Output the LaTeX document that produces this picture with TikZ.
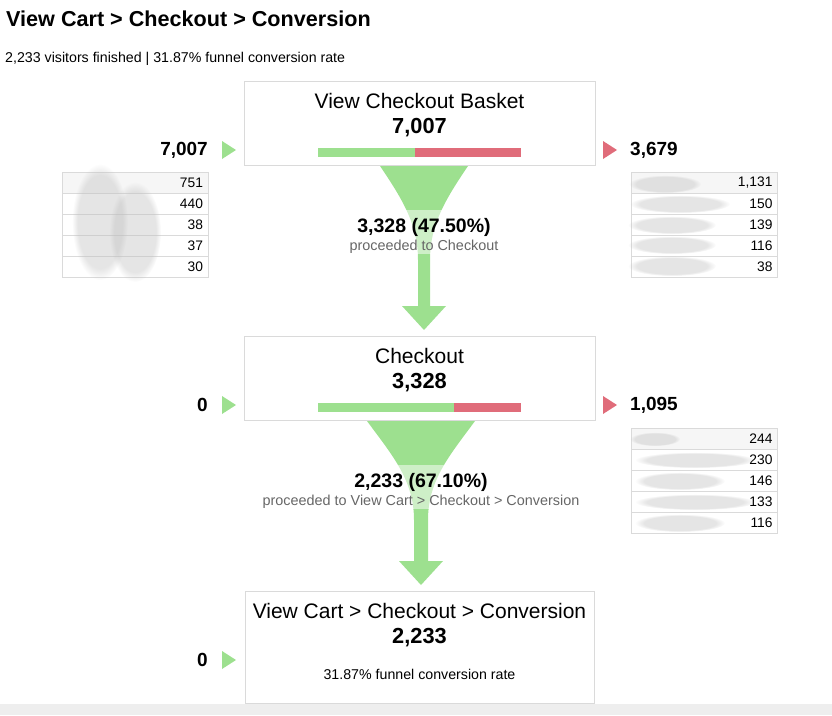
\documentclass[tikz,border=0pt]{standalone}
\usepackage{fontspec}
\setmainfont{Liberation Sans}
\usetikzlibrary{fadings}
\definecolor{stepgreen}{RGB}{157,224,143}
\definecolor{stepred}{RGB}{224,108,122}
\definecolor{boxgray}{RGB}{218,218,218}
\definecolor{rowgray}{RGB}{246,246,246}
\definecolor{labelgray}{RGB}{102,102,102}
\definecolor{footgray}{RGB}{238,238,238}
\newcommand{\fsz}[1]{\fontsize{#1}{#1}\selectfont}

\begin{document}
\begin{tikzpicture}[x=1pt,y=-1pt,
    every node/.style={inner sep=0pt},
    stepbox/.style={draw=boxgray,line width=1pt,fill=white,minimum width=351pt,minimum height=84pt},
    steptitle/.style={font=\fsz{21}},
    stepnum/.style={font=\fsz{21.8}\bfseries},
    sidenum/.style={font=\fsz{19}\bfseries},
    row/.style={draw=boxgray,line width=1pt,minimum width=146pt,minimum height=21pt,
                inner xsep=5pt,text width=136pt,align=right,font=\fsz{13.8}},
    flownum/.style={font=\fsz{19.5}\bfseries},
    flowtext/.style={font=\fsz{14.4},text=labelgray},
    funnel/.style={fill=stepgreen},
    smudge/.style={gray!50,opacity=0.4,path fading=circle with fuzzy edge 20 percent}]

      \useasboundingbox (0,0) rectangle (832,715);
      \fill[footgray] (0,704) rectangle (832,715);

      \node[anchor=west] (title) at (6,19) {\fsz{21.6}\bfseries View Cart > Checkout > Conversion};
      \node[anchor=west] (sub) at (5,59) {\fsz{14.2}2,233 visitors finished | 31.87\% funnel conversion rate};

      \fill[funnel] (380,166) -- (468,166) .. controls (445,200) and (430,225) .. (430,260)
        -- (430,306) -- (446,306) -- (424,330) -- (402,306) -- (418,306) -- (418,260)
        .. controls (418,225) and (403,200) .. (380,166) -- cycle;
      \fill[white,opacity=0.5] (370,210) rectangle (478,254);
      \node[flownum] (f1num) at (424,227) {3,328 (47.50\%)};
      \node[flowtext] (f1txt) at (424,247) {proceeded to Checkout};

      \fill[funnel] (367,421) -- (475,421) .. controls (450,455) and (428,480) .. (428,520)
        -- (428,561) -- (443,561) -- (421,585) -- (399,561) -- (414,561) -- (414,520)
        .. controls (414,480) and (392,455) .. (367,421) -- cycle;
      \fill[white,opacity=0.5] (360,465) rectangle (482,509);
      \node[flownum] (f2num) at (421,482) {2,233 (67.10\%)};
      \node[flowtext] (f2txt) at (421,502) {proceeded to View Cart > Checkout > Conversion};

      \node[stepbox] (basket) at (419.5,123) {};
      \node[steptitle] (basket-t) at (419.5,101) {View Checkout Basket};
      \node[stepnum] (basket-n) at (419.5,128) {7,007};
        \fill[stepgreen] (318,148) rectangle (415,157);
        \fill[stepred] (415,148) rectangle (521,157);

      \node[stepbox] (checkout) at (419.5,378) {};
      \node[steptitle] (checkout-t) at (419.5,356) {Checkout};
      \node[stepnum] (checkout-n) at (419.5,383) {3,328};
        \fill[stepgreen] (318,403) rectangle (454,412);
        \fill[stepred] (454,403) rectangle (521,412);

      \node[stepbox,minimum width=349pt,minimum height=112pt] (conversion) at (419.5,647) {};
      \node[steptitle] (conversion-t) at (419.5,611) {View Cart > Checkout > Conversion};
      \node[stepnum] (conversion-n) at (419.5,638) {2,233};
      \node[font=\fsz{14.2}] (conversion-r) at (419.5,674) {31.87\% funnel conversion rate};

      \node[sidenum,anchor=east] (in1) at (208,150) {7,007};
        \fill[stepgreen] (222,141) -- (236,150) -- (222,159) -- cycle;
      \node[sidenum,anchor=west] (out1) at (630,150) {3,679};
        \fill[stepred] (603,141) -- (617,150) -- (603,159) -- cycle;
      \node[sidenum,anchor=east] (in2) at (208,405) {0};
        \fill[stepgreen] (222,396) -- (236,405) -- (222,414) -- cycle;
      \node[sidenum,anchor=west] (out2) at (630,405) {1,095};
        \fill[stepred] (603,396) -- (617,405) -- (603,414) -- cycle;
      \node[sidenum,anchor=east] (in3) at (208,660) {0};
        \fill[stepgreen] (222,651) -- (236,660) -- (222,669) -- cycle;

      \node[row,fill=rowgray] (l1) at (135,182.5) {751};
      \node[row] (l2) at (135,203.5) {440};
      \node[row] (l3) at (135,224.5) {38};
      \node[row] (l4) at (135,245.5) {37};
      \node[row] (l5) at (135,266.5) {30};
        \fill[smudge] (100,222) ellipse (28 and 58);
        \fill[smudge] (135,232) ellipse (26 and 50);

      \node[row,fill=rowgray] (r1) at (704.5,182.5) {1,131};
      \node[row] (r2) at (704.5,203.5) {150};
      \node[row] (r3) at (704.5,224.5) {139};
      \node[row] (r4) at (704.5,245.5) {116};
      \node[row] (r5) at (704.5,266.5) {38};
        \fill[smudge] (665,184) ellipse (36 and 9);
        \fill[smudge] (680,204) ellipse (50 and 9);
        \fill[smudge] (672,225) ellipse (44 and 9);
        \fill[smudge] (672,245) ellipse (44 and 9);
        \fill[smudge] (672,266) ellipse (44 and 10);

      \node[row,fill=rowgray] (s1) at (704.5,438.5) {244};
      \node[row] (s2) at (704.5,459.5) {230};
      \node[row] (s3) at (704.5,480.5) {146};
      \node[row] (s4) at (704.5,501.5) {133};
      \node[row] (s5) at (704.5,522.5) {116};
        \fill[smudge] (655,439) ellipse (25 and 7);
        \fill[smudge] (695,460) ellipse (60 and 8);
        \fill[smudge] (680,481) ellipse (45 and 9);
        \fill[smudge] (695,502) ellipse (60 and 8);
        \fill[smudge] (680,523) ellipse (45 and 9);

    \end{tikzpicture}
\end{document}
